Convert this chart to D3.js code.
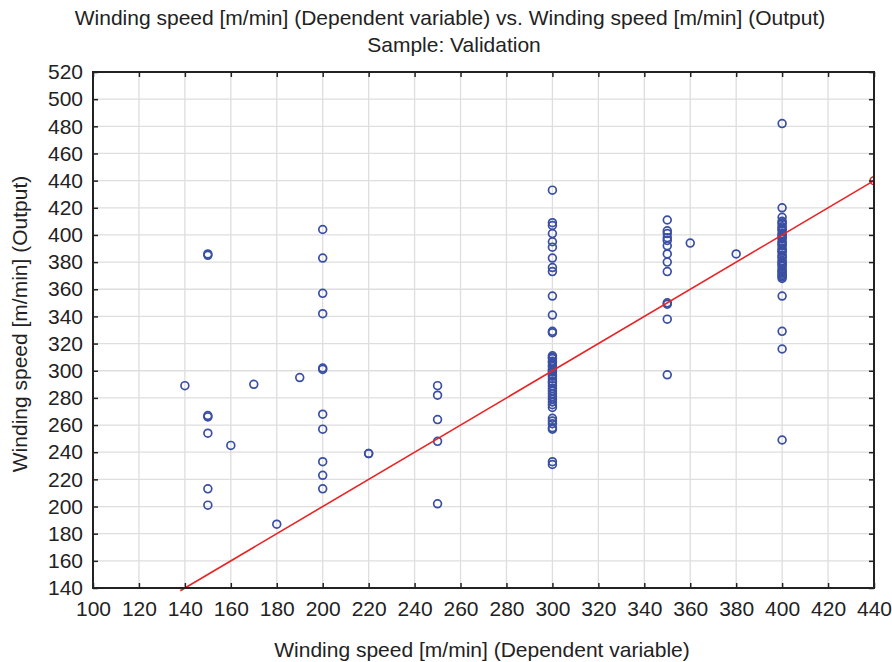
<!DOCTYPE html>
<html>
<head>
<meta charset="utf-8">
<script src="https://cdn.jsdelivr.net/npm/d3@7"></script>
<style>
  body { margin: 0; background: #fff; }
  text { font-family: "Liberation Sans", Arial, sans-serif; fill: #222; }
</style>
</head>
<body>
<div id="chart"></div>
<script>
// target speed (x) and network output (y) for each group of validation cases
const targetSpeeds = [140, 150, 160, 170, 180, 190, 200, 220, 250, 300, 350, 360, 380, 400];
const outputs = [
    [289],
    [386, 385, 267, 266, 254, 213, 201],
    [245],
    [290],
    [187],
    [295],
    [404, 383, 357, 342, 302, 301, 268, 257, 233, 223, 213],
    [239, 239],
    [289, 282, 264, 248, 202],
    [433, 409, 407, 401, 395, 391, 383, 376, 373, 355, 341, 329, 328, 311, 310, 309, 307, 306, 304, 303,
     301, 300, 299, 297, 296, 294, 292, 291, 289, 287, 285, 283, 281, 279, 277, 275, 273, 265, 263, 261,
     258, 257, 233, 231],
    [411, 403, 401, 398, 396, 392, 386, 380, 373, 350, 349, 338, 297],
    [394],
    [386],
    [482, 420, 413, 410, 409, 408, 406, 405, 404, 403, 401, 400, 399, 398, 397, 395, 394, 393, 392, 390,
     389, 388, 387, 385, 384, 383, 381, 380, 379, 378, 377, 375, 374, 373, 372, 371, 370, 369, 368, 355,
     329, 316, 249]
];
const fitLine = [[138, 138], [440, 440]];
const xTicks = d3.range(100, 441, 20);
const yTicks = d3.range(140, 521, 20);

const width = 892, height = 662;
const margin = {top: 72, right: 18, bottom: 74, left: 93};
const w = width - margin.left - margin.right;
const h = height - margin.top - margin.bottom;
const fs = "21px";

const svg = d3.select("#chart").append("svg")
    .attr("width", width)
    .attr("height", height);

const x = d3.scaleLinear().domain([100, 440]).range([0, w]);
const y = d3.scaleLinear().domain([140, 520]).range([h, 0]);

const g = svg.append("g").attr("transform", "translate(" + margin.left + "," + margin.top + ")");

// grid
g.selectAll("line.vgrid").data(xTicks).join("line")
    .attr("x1", d => x(d)).attr("x2", d => x(d))
    .attr("y1", 0).attr("y2", h)
    .attr("stroke", "#dedede").attr("stroke-width", 1.3);
g.selectAll("line.hgrid").data(yTicks).join("line")
    .attr("x1", 0).attr("x2", w)
    .attr("y1", d => y(d)).attr("y2", d => y(d))
    .attr("stroke", "#dedede").attr("stroke-width", 1.3);

g.append("clipPath").attr("id", "clip")
    .append("rect").attr("x", 0).attr("y", 0).attr("width", w).attr("height", h + 4);

// points
const pts = [];
targetSpeeds.forEach((s, i) => outputs[i].forEach(v => pts.push([s, v])));
g.append("g").selectAll("circle").data(pts).join("circle")
    .attr("cx", d => x(d[0]))
    .attr("cy", d => y(d[1]))
    .attr("r", 3.9)
    .attr("fill", "none")
    .attr("stroke", "#3a4fa3")
    .attr("stroke-width", 1.7);

// identity line
const lg = g.append("g").attr("clip-path", "url(#clip)");
lg.append("path")
    .datum(fitLine)
    .attr("d", d3.line().x(d => x(d[0])).y(d => y(d[1])))
    .attr("fill", "none")
    .attr("stroke", "#ea2424")
    .attr("stroke-width", 1.6);
lg.append("circle")
    .attr("cx", x(fitLine[1][0])).attr("cy", y(fitLine[1][1]))
    .attr("r", 3.9).attr("fill", "none")
    .attr("stroke", "#ea2424").attr("stroke-width", 1.6);

// axes with inward ticks on all four sides
const tickLen = 5;
g.append("g").attr("transform", "translate(0," + h + ")")
    .call(d3.axisBottom(x).tickValues(xTicks).tickSizeInner(-tickLen).tickSizeOuter(0).tickPadding(13));
g.append("g")
    .call(d3.axisTop(x).tickValues(xTicks).tickSizeInner(-tickLen).tickSizeOuter(0).tickFormat(""));
g.append("g")
    .call(d3.axisLeft(y).tickValues(yTicks).tickSizeInner(-tickLen).tickSizeOuter(0).tickPadding(10));
g.append("g").attr("transform", "translate(" + w + ",0)")
    .call(d3.axisRight(y).tickValues(yTicks).tickSizeInner(-tickLen).tickSizeOuter(0).tickFormat(""));

g.selectAll(".domain").remove();
g.selectAll(".tick line").attr("stroke", "#222").attr("stroke-width", 1.5);
g.selectAll(".tick text").style("font-size", fs).attr("fill", "#222")
    .style("font-family", "'Liberation Sans', Arial, sans-serif");

g.append("rect")
    .attr("x", 0).attr("y", 0).attr("width", w).attr("height", h)
    .attr("fill", "none").attr("stroke", "#222").attr("stroke-width", 2);

// titles
svg.append("text").attr("x", 450).attr("y", 25).attr("text-anchor", "middle")
    .style("font-size", fs)
    .text("Winding speed [m/min] (Dependent variable) vs. Winding speed [m/min] (Output)");
svg.append("text").attr("x", 454).attr("y", 52).attr("text-anchor", "middle")
    .style("font-size", fs)
    .text("Sample: Validation");
svg.append("text").attr("x", 482).attr("y", 657).attr("text-anchor", "middle")
    .style("font-size", fs)
    .text("Winding speed [m/min] (Dependent variable)");
svg.append("text").attr("transform", "translate(27,324) rotate(-90)")
    .attr("text-anchor", "middle")
    .style("font-size", fs)
    .text("Winding speed [m/min] (Output)");
</script>
</body>
</html>
